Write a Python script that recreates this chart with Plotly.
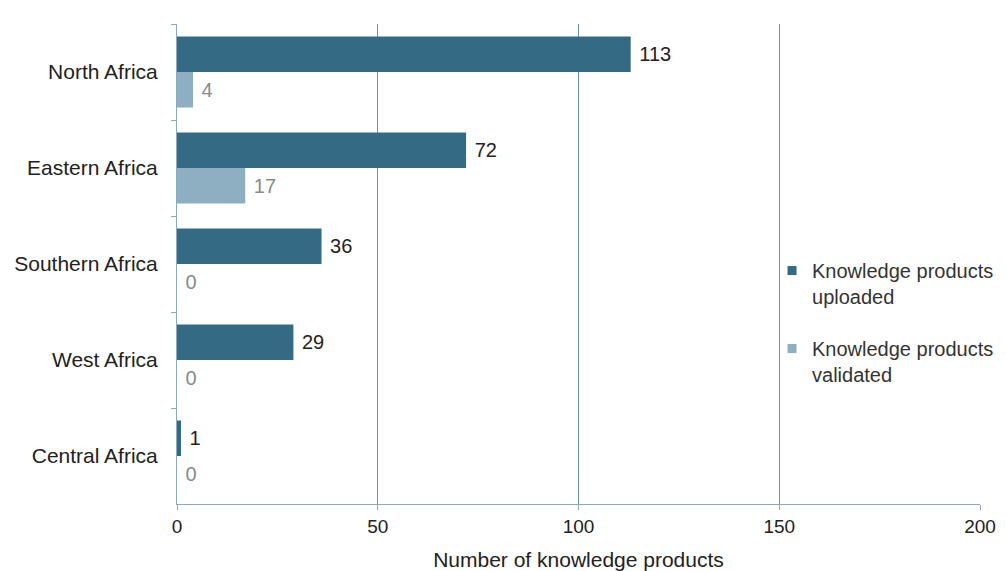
import plotly.graph_objects as go

regions = ["North Africa", "Eastern Africa", "Southern Africa", "West Africa", "Central Africa"]
uploaded = [113, 72, 36, 29, 1]
validated = [4, 17, 0, 0, 0]
series_names = ["Knowledge products<br>uploaded", "Knowledge products<br>validated"]
x_ticks = [0, 50, 100, 150, 200]

c_up = "#356A85"
c_val = "#8DAFC1"
font = "Liberation Sans, Arial, sans-serif"
fs = 21

fig = go.Figure()
fig.add_trace(go.Bar(
    y=regions, x=uploaded, name=series_names[0], orientation="h",
    marker=dict(color=c_up, line=dict(width=0)), showlegend=False,
    text=[" " + str(v) for v in uploaded], textposition="outside",
    textfont=dict(color="#222222", size=20, family=font), cliponaxis=False,
))
fig.add_trace(go.Bar(
    y=regions, x=validated, name=series_names[1], orientation="h",
    marker=dict(color=c_val, line=dict(width=0)), showlegend=False,
    text=[" " + str(v) for v in validated], textposition="outside",
    textfont=dict(color="#8A8A8A", size=20, family=font), cliponaxis=False,
))
# legend entries with small square swatches
for name, col, grp in [(series_names[0], c_up, "a"), (series_names[1], c_val, "b")]:
    fig.add_trace(go.Scatter(
        x=[None], y=[None], mode="markers", name=name, legendgroup=grp,
        marker=dict(symbol="square", size=9, color=col),
    ))

# page body has an 8px default margin, so the figure is sized to fit inside
fig.update_layout(
    width=999, height=563,
    margin=dict(l=169, r=27, t=16, b=67, autoexpand=False),
    paper_bgcolor="white", plot_bgcolor="white",
    barmode="group", bargap=0.26, bargroupgap=0,
    font=dict(family=font, size=fs, color="#222222"),
    legend=dict(
        x=0.741, y=0.527, xanchor="left", yanchor="top",
        xref="paper", yref="paper", valign="top",
        bgcolor="rgba(0,0,0,0)", font=dict(size=20, color="#333333"),
        tracegroupgap=23, itemwidth=30,
    ),
    xaxis=dict(
        range=[0, 200], tickvals=x_ticks, ticktext=[str(v) for v in x_ticks],
        showgrid=True, gridcolor="#6A93B2", gridwidth=1,
        showline=True, linecolor="#8AAAC2", linewidth=1,
        ticks="outside", ticklen=5, tickcolor="#8AAAC2",
        zeroline=False, automargin=False,
        tickfont=dict(family="Liberation Sans Narrow, Liberation Sans, Arial", size=19, color="#222222"),
        title=dict(text="Number of knowledge products", standoff=16,
                   font=dict(size=fs, color="#222222")),
    ),
    yaxis=dict(
        categoryorder="array", categoryarray=regions, autorange="reversed",
        showline=True, linecolor="#8AAAC2", linewidth=1,
        ticks="outside", ticklen=5, tickcolor="#8AAAC2", tickson="boundaries",
        showgrid=False, ticklabelstandoff=14, automargin=False,
        tickfont=dict(size=fs, color="#222222"),
    ),
)

fig.write_html("out.html")
